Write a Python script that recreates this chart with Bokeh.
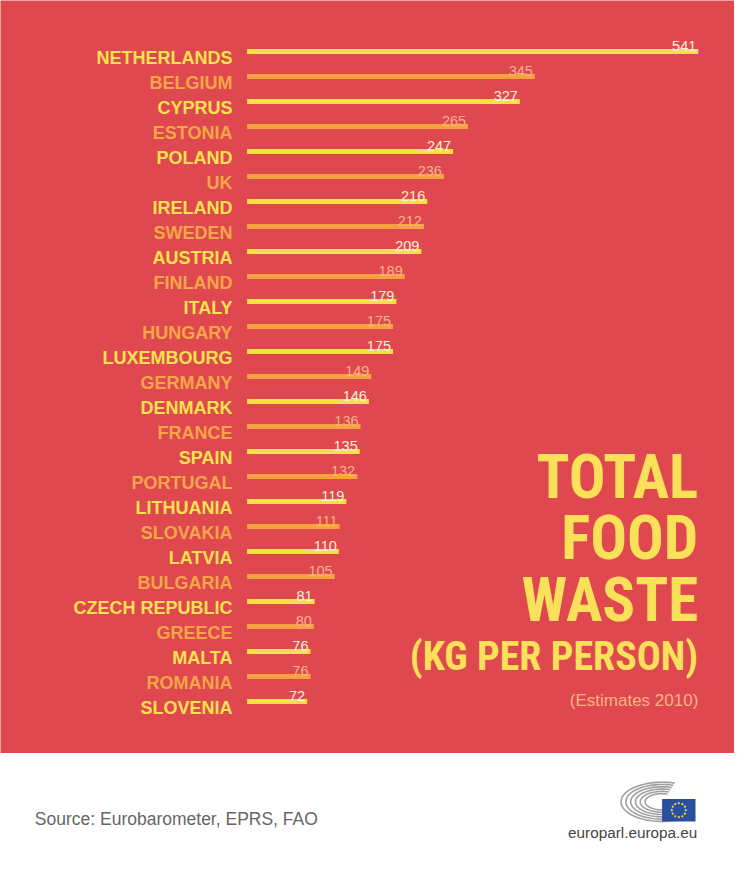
import numpy as np
from bokeh.plotting import figure
from bokeh.models import Range1d, ColumnDataSource, Label
from bokeh.layouts import column
from bokeh.core.properties import value
from bokeh.embed import file_html
from bokeh.resources import INLINE

# ---------------- data ----------------
countries = ["NETHERLANDS", "BELGIUM", "CYPRUS", "ESTONIA", "POLAND", "UK",
             "IRELAND", "SWEDEN", "AUSTRIA", "FINLAND", "ITALY", "HUNGARY",
             "LUXEMBOURG", "GERMANY", "DENMARK", "FRANCE", "SPAIN", "PORTUGAL",
             "LITHUANIA", "SLOVAKIA", "LATVIA", "BULGARIA", "CZECH REPUBLIC",
             "GREECE", "MALTA", "ROMANIA", "SLOVENIA"]
kg_per_person = [541, 345, 327, 265, 247, 236, 216, 212, 209, 189, 179, 175,
                 175, 149, 146, 136, 135, 132, 119, 111, 110, 105, 81, 80,
                 76, 76, 72]
title_lines = ["TOTAL", "FOOD", "WASTE"]
subtitle = "(KG PER PERSON)"
note = "(Estimates 2010)"
source_text = "Source: Eurobarometer, EPRS, FAO"
site_text = "europarl.europa.eu"

# ---------------- style / geometry ----------------
RED = "#e0484f"
YELLOW = "#fbe045"
ORANGE = "#f6a23e"
YELLOW_TXT = "#fbe24e"
ORANGE_TXT = "#f7a647"
VAL_LIGHT = "#fff1d6"
VAL_PEACH = "#f8b386"
TITLE_YELLOW = "#fbe05a"

W = 734
H1 = 753
H2 = 117
X0 = 246.6        # pixel of zero kg
PX = 0.834        # pixels per kg
ROW0 = 51.1       # pixel of first row
PITCH = 25.0      # pixels per row


def dx(px):
    return (px - X0) / PX


def dy(py):
    return (py - ROW0) / PITCH


n = len(countries)
rows = list(range(n))
bar_colors = [YELLOW if i % 2 == 0 else ORANGE for i in rows]
lab_colors = [YELLOW_TXT if i % 2 == 0 else ORANGE_TXT for i in rows]
val_colors = [VAL_LIGHT if i % 2 == 0 else VAL_PEACH for i in rows]

src = ColumnDataSource(dict(
    row=rows,
    kg=kg_per_person,
    country=countries,
    val=[str(v) for v in kg_per_person],
    bar_color=bar_colors,
    lab_color=lab_colors,
    val_color=val_colors,
    lab_x=[dx(232)] * n,
    lab_y=[r + 6.0 / PITCH for r in rows],
    val_x=[v - 2.0 / PX for v in kg_per_person],
    val_y=[r - 6.0 / PITCH for r in rows],
))

p = figure(width=W, height=H1, output_backend="svg", toolbar_location=None,
           x_range=Range1d(-X0 / PX, (W - X0) / PX),
           y_range=Range1d((H1 - ROW0) / PITCH, -ROW0 / PITCH),
           min_border=0, background_fill_color=RED, border_fill_color=RED,
           outline_line_color=None)
p.axis.visible = False
p.grid.visible = False

p.hbar(y="row", left=0, right="kg", height=5.0 / PITCH, fill_color="bar_color",
       line_color=None, source=src)

p.text(x="lab_x", y="lab_y", text="country", text_color="lab_color",
       text_align="right", text_baseline="alphabetic",
       text_font=value("Liberation Sans"), text_font_style="bold",
       text_font_size="18px", source=src)

p.text(x="val_x", y="val_y", text="val", text_color="val_color",
       text_align="right", text_baseline="alphabetic",
       text_font=value("Liberation Sans"), text_font_size="14.5px", source=src)

TFONT = "Roboto Condensed"

# Title block
for line, base in zip(title_lines, [476, 537.5, 599]):
    p.add_layout(Label(x=dx(697.8), y=dy(base), text=line, text_align="right",
                       text_baseline="alphabetic",
                       text_font=TFONT, text_font_style="bold",
                       text_font_size="61px", text_color=TITLE_YELLOW))
p.add_layout(Label(x=dx(697.8), y=dy(656), text=subtitle, text_align="right",
                   text_baseline="alphabetic",
                   text_font=TFONT, text_font_style="bold",
                   text_font_size="40px", text_color=TITLE_YELLOW))
p.add_layout(Label(x=dx(697.8), y=dy(700), text=note, text_align="right",
                   text_baseline="alphabetic",
                   text_font="Liberation Sans", text_font_size="17px",
                   text_color=VAL_PEACH))

# ---------------- footer ----------------
f = figure(width=W, height=H2, output_backend="svg", toolbar_location=None,
           x_range=Range1d(0, W), y_range=Range1d(H2, 0), min_border=0,
           background_fill_color="white", border_fill_color="white",
           outline_line_color=None)
f.axis.visible = False
f.grid.visible = False

f.add_layout(Label(x=34.3, y=65, text=source_text, text_align="left",
                   text_baseline="alphabetic", text_font="Liberation Sans",
                   text_font_size="17.5px", text_color="#666666"))
f.add_layout(Label(x=696.8, y=78.7, text=site_text, text_align="right",
                   text_baseline="alphabetic", text_font="Liberation Sans",
                   text_font_size="15.3px", text_color="#444444"))

# EP logo: hemicycle arcs + flag
cx, cy = 661.6, 48.3
t = np.radians(np.linspace(72, 288, 60))
xs, ys = [], []
for k in range(6):
    rx = 41 - k * 4.8
    ry = 19.6 - k * 2.3
    xs.append(list(cx + rx * np.cos(t)))
    ys.append(list(cy - ry * np.sin(t)))
f.multi_line(xs=xs, ys=ys, line_color="#a0a0a0", line_width=1.6)
f.quad(left=661.6, right=695.0, top=45.4, bottom=68.0, fill_color="#2a4f9f",
       line_color=None)
ang = np.radians(np.arange(0, 360, 30))
f.scatter(x=list(678.3 + 7.0 * np.cos(ang)), y=list(56.7 + 7.0 * np.sin(ang)),
          size=2.2, color="#f5d93a", line_color=None)

layout = column(p, f, spacing=0)
open("out.html", "w").write(file_html(layout, INLINE))
